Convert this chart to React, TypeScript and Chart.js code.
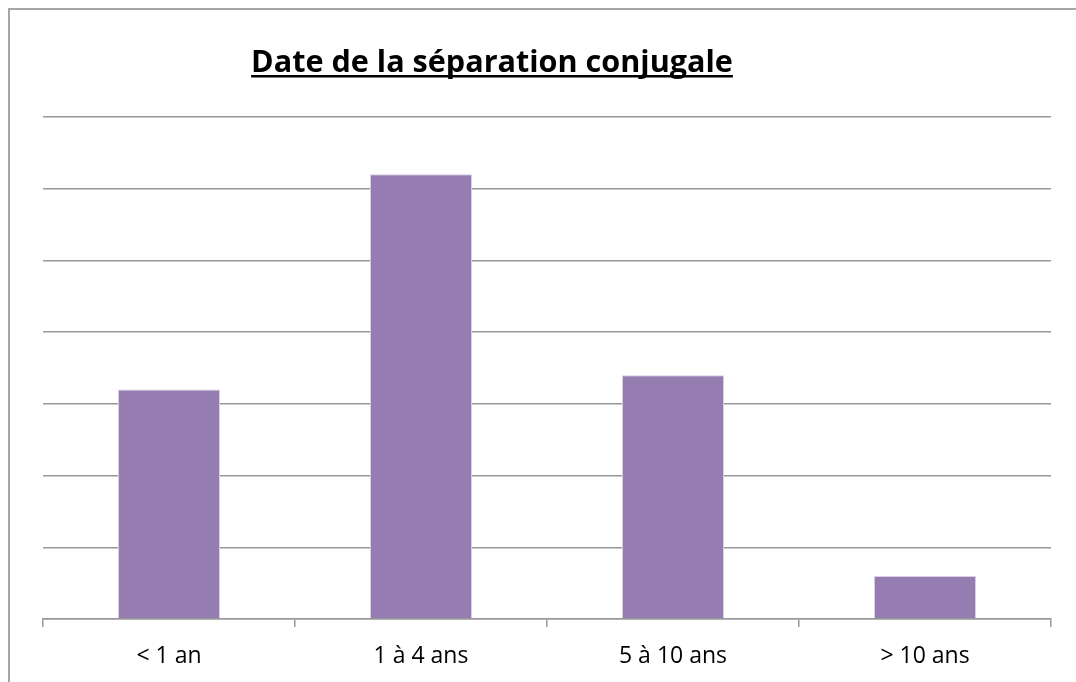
import React, { useEffect, useRef } from "react";
import { Chart, registerables } from "chart.js";

Chart.register(...registerables);

const categories = ["< 1 an", "1 à 4 ans", "5 à 10 ans", "> 10 ans"];
const values = [16, 31, 17, 3];
const yTicks = [0, 5, 10, 15, 20, 25, 30, 35];
const titleText = "Date de la séparation conjugale";

const framePlugin = {
  id: "frameAndTitle",
  afterDraw(chart: any) {
    const ctx = chart.ctx as CanvasRenderingContext2D;
    ctx.save();
    ctx.strokeStyle = "#a6a6a6";
    ctx.lineWidth = 2;
    ctx.beginPath();
    ctx.moveTo(9, 682);
    ctx.lineTo(9, 9);
    ctx.lineTo(1076, 9);
    ctx.stroke();
    let size = 28;
    ctx.font = `bold ${size}px "Open Sans"`;
    const w0 = ctx.measureText(titleText).width;
    size = (size * 482) / w0;
    ctx.font = `bold ${size}px "Open Sans"`;
    const w = ctx.measureText(titleText).width;
    const cx = 492;
    ctx.fillStyle = "#000";
    ctx.textAlign = "center";
    ctx.textBaseline = "alphabetic";
    ctx.fillText(titleText, cx, 72);
    ctx.fillRect(cx - w / 2, 75, w, 2.5);
    ctx.restore();
  },
};

export default function App() {
  const ref = useRef<HTMLCanvasElement>(null);
  useEffect(() => {
    document.body.style.margin = "0";
    document.body.style.overflow = "hidden";
    const chart = new Chart(ref.current!, {
      type: "bar",
      data: {
        labels: categories,
        datasets: [
          {
            data: values,
            backgroundColor: "#957cb1",
            borderColor: "#d9cfe6",
            borderWidth: 1,
            categoryPercentage: 1,
            barPercentage: 0.405,
          },
        ],
      },
      options: {
        animation: false,
        responsive: false,
        maintainAspectRatio: false,
        layout: { padding: { left: 43, right: 25, top: 117, bottom: 13 } },
        plugins: { legend: { display: false }, tooltip: { enabled: false }, title: { display: false } },
        scales: {
          x: {
            afterFit: (s: any) => {
              s.height = 50;
            },
            grid: { drawOnChartArea: false, drawTicks: true, tickLength: 8, offset: true, color: "#999999", lineWidth: 1.5 },
            border: { display: true, color: "#999999", width: 1.5 },
            ticks: { color: "#000", font: { family: "Open Sans", size: 23 }, padding: 16 },
          },
          y: {
            min: 0,
            max: 35,
            afterFit: (s: any) => {
              s.width = 0;
            },
            afterBuildTicks: (s: any) => {
              s.ticks = yTicks.map((v) => ({ value: v }));
            },
            ticks: { display: false },
            grid: { color: "#999999", lineWidth: 1.5, drawTicks: false },
            border: { display: false },
          },
        },
      },
      plugins: [framePlugin],
    });
    return () => chart.destroy();
  }, []);
  return <canvas ref={ref} width={1076} height={682} style={{ display: "block" }} />;
}
